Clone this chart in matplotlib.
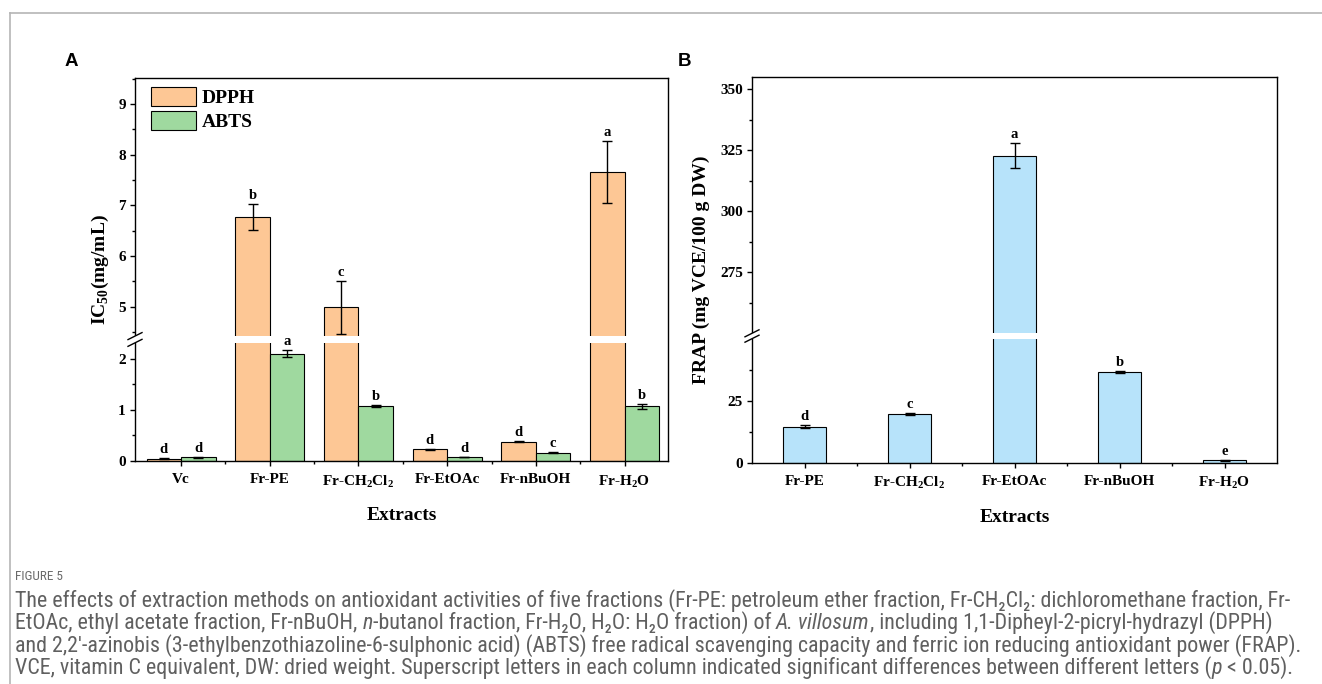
import matplotlib
matplotlib.use('Agg')
import matplotlib.pyplot as plt
import numpy as np
from matplotlib import font_manager
from matplotlib.patches import Rectangle
from matplotlib.lines import Line2D

names = {f.name for f in font_manager.fontManager.ttflist}
cap_font = next(n for n in ['Liberation Sans Narrow', 'Roboto Condensed', 'Roboto', 'Open Sans', 'DejaVu Sans']
                if n in names)

plt.rcParams['font.family'] = ['Liberation Serif', 'DejaVu Serif']
plt.rcParams['font.weight'] = 'bold'
plt.rcParams['mathtext.fontset'] = 'custom'
plt.rcParams['mathtext.rm'] = 'Liberation Serif:weight=normal'
plt.rcParams['mathtext.bf'] = 'Liberation Serif:weight=bold'

# ---- data ----
extracts_a = ['Vc', 'Fr-PE', r'Fr-CH$_\mathbf{2}$Cl$_\mathbf{2}$', 'Fr-EtOAc', 'Fr-nBuOH', r'Fr-H$_\mathbf{2}$O']
dpph = [0.04, 6.77, 4.99, 0.23, 0.38, 7.66]
dpph_err = [0.01, 0.25, 0.52, 0.01, 0.01, 0.61]
dpph_sig = ['d', 'b', 'c', 'd', 'd', 'a']
abts = [0.07, 2.10, 1.08, 0.08, 0.16, 1.07]
abts_err = [0.005, 0.07, 0.02, 0.005, 0.01, 0.05]
abts_sig = ['d', 'a', 'b', 'd', 'c', 'b']

extracts_b = extracts_a[1:]
frap = [14.4, 19.6, 322.8, 36.6, 0.9]
frap_err = [0.6, 0.4, 5.0, 0.3, 0.1]
frap_sig = ['d', 'c', 'a', 'b', 'e']

c_dpph = '#FDC795'
c_abts = '#9FD99F'
c_frap = '#B7E3FA'

W, H = 1322, 684
fig = plt.figure(figsize=(W / 100, H / 100), dpi=100)


def px_axes(l, r, t, b):
    return fig.add_axes([l / W, 1 - b / H, (r - l) / W, (b - t) / H])


def broken(s1, b1, b2, ref, ref_px, s2):
    # data value -> pixel height above the x axis, with a squeezed gap
    xp = [-1e5, 0, b1, b2, 1e5]
    fp = [-1e5 * s1, 0, b1 * s1, ref_px + (b2 - ref) * s2, ref_px + (1e5 - ref) * s2]
    return (lambda y: np.interp(y, xp, fp)), (lambda p: np.interp(p, fp, xp))


def style(ax, b1, b2, fwd, spine_x, bottom_px):
    for s in ax.spines.values():
        s.set_linewidth(1.0)
    ax.tick_params(which='major', direction='out', length=3.5, width=1, labelsize=11, pad=3)
    ax.tick_params(axis='x', which='major', pad=5)
    ax.tick_params(which='minor', direction='out', length=2, width=1)
    # white band through the bars
    ax.add_patch(Rectangle((0, b1), 1, b2 - b1, transform=ax.get_yaxis_transform(),
                           facecolor='white', edgecolor='none', zorder=2.2))
    ax.add_patch(Rectangle((-0.02, b1), 0.04, b2 - b1, transform=ax.get_yaxis_transform(),
                           facecolor='white', edgecolor='none', zorder=2.6, clip_on=False))
    for b in (b1, b2):
        y = bottom_px - fwd(b)
        fig.add_artist(Line2D([(spine_x - 7) / W, (spine_x + 7) / W],
                              [1 - (y + 3.5) / H, 1 - (y - 3.5) / H],
                              color='black', lw=1.0, zorder=5))


def letters(ax, xs, tops, sig):
    for xi, t, s in zip(xs, tops, sig):
        ax.annotate(s, (xi, t), xytext=(0, 1.5), textcoords='offset points',
                    ha='center', va='bottom', fontsize=10.5, fontweight='bold', zorder=6)


# ---- panel A ----
axA = px_axes(135, 668, 78, 461)
fA, iA = broken(51.15, 2.31, 4.42, 5, 154.3, 50.675)
axA.set_yscale('function', functions=(fA, iA))
axA.set_xlim(-0.52, 5.49)
axA.set_ylim(0, 9.51)
xa = np.arange(len(extracts_a))
w = 0.39
axA.bar(xa - w / 2, dpph, w, color=c_dpph, edgecolor='black', linewidth=0.8, label='DPPH', zorder=1)
axA.bar(xa + w / 2, abts, w, color=c_abts, edgecolor='black', linewidth=0.8, label='ABTS', zorder=1)
axA.errorbar(xa - w / 2, dpph, yerr=dpph_err, fmt='none', ecolor='black', elinewidth=1,
             capsize=3.5, capthick=1, zorder=3)
axA.errorbar(xa + w / 2, abts, yerr=abts_err, fmt='none', ecolor='black', elinewidth=1,
             capsize=3.5, capthick=1, zorder=3)
letters(axA, xa - w / 2, np.add(dpph, dpph_err), dpph_sig)
letters(axA, xa + w / 2, np.add(abts, abts_err), abts_sig)
axA.set_yticks([0, 1, 2, 5, 6, 7, 8, 9])
axA.set_yticklabels(['0', '1', '2', '5', '6', '7', '8', '9'])
axA.set_yticks([0.5, 1.5, 4.5, 5.5, 6.5, 7.5, 8.5, 9.5], minor=True)
axA.set_xticks(xa)
axA.set_xticklabels(extracts_a)
axA.set_xticks(xa[:-1] + 0.5, minor=True)
style(axA, 2.31, 4.42, fA, 135, 461)
axA.set_ylabel(r'IC$_\mathbf{50}$(mg/mL)', fontsize=14, fontweight='bold', va='center')
axA.yaxis.set_label_coords((100 - 135) / 533, 0.5)
axA.set_xlabel('Extracts', fontsize=14, fontweight='bold', va='center')
axA.xaxis.set_label_coords(0.5, -0.141)
axA.legend(loc='upper left', bbox_to_anchor=(16 / 533, 1 - 9 / 383), frameon=False,
           fontsize=14, handlelength=2.3, handleheight=1.15, handletextpad=0.3,
           labelspacing=0.18, borderpad=0, borderaxespad=0)

# ---- panel B ----
axB = px_axes(752, 1277, 77.3, 462.7)
fB, iB = broken(2.48, 50, 250, 350, 373.4, 2.44)
axB.set_yscale('function', functions=(fB, iB))
axB.set_xlim(-0.5, 4.5)
axB.set_ylim(0, 354.9)
xb = np.arange(len(extracts_b))
wb = 0.41
axB.bar(xb, frap, wb, color=c_frap, edgecolor='black', linewidth=0.8, zorder=1)
axB.errorbar(xb, frap, yerr=frap_err, fmt='none', ecolor='black', elinewidth=1,
             capsize=3.5, capthick=1, zorder=3)
letters(axB, xb, np.add(frap, frap_err), frap_sig)
axB.set_yticks([0, 25, 275, 300, 325, 350])
axB.set_yticklabels(['0', '25', '275', '300', '325', '350'])
axB.set_yticks([12.5, 37.5, 262.5, 287.5, 312.5, 337.5], minor=True)
axB.set_xticks(xb)
axB.set_xticklabels(extracts_b)
axB.set_xticks(xb[:-1] + 0.5, minor=True)
style(axB, 50, 250, fB, 752, 462.7)
axB.set_ylabel('FRAP (mg VCE/100 g DW)', fontsize=14, fontweight='bold', va='center')
axB.yaxis.set_label_coords((701 - 752) / 525, 0.5)
axB.set_xlabel('Extracts', fontsize=14, fontweight='bold', va='center')
axB.xaxis.set_label_coords(0.5, -0.141)

# panel letters
fig.text(65 / W, 1 - 61 / H, 'A', family=['Liberation Sans', 'DejaVu Sans'], fontweight='bold',
         fontsize=13.5, va='center', ha='left')
fig.text(678 / W, 1 - 61 / H, 'B', family=['Liberation Sans', 'DejaVu Sans'], fontweight='bold',
         fontsize=13.5, va='center', ha='left')

# outer frame
fig.add_artist(Line2D([10 / W, 1], [1 - 13 / H, 1 - 13 / H], color='#b5b5b5', lw=1.2))
fig.add_artist(Line2D([10 / W, 10 / W], [0, 1 - 13 / H], color='#b5b5b5', lw=1.2))

# caption, as runs of plain / italic text
cap_lines = [
    [('The effects of extraction methods on antioxidant activities of five fractions (Fr-PE: petroleum ether '
      'fraction, Fr-CH\u2082Cl\u2082: dichloromethane fraction, Fr-', 'normal')],
    [('EtOAc, ethyl acetate fraction, Fr-nBuOH, ', 'normal'), ('n', 'italic'),
     ('-butanol fraction, Fr-H\u2082O, H\u2082O: H\u2082O fraction) of ', 'normal'), ('A. villosum', 'italic'),
     (', including 1,1-Dipheyl-2-picryl-hydrazyl (DPPH)', 'normal')],
    [('and 2,2\u2032-azinobis (3-ethylbenzothiazoline-6-sulphonic acid) (ABTS) free radical scavenging '
      'capacity and ferric ion reducing antioxidant power (FRAP).', 'normal')],
    [('VCE, vitamin C equivalent, DW: dried weight. Superscript letters in each column indicated significant '
      'differences between different letters (', 'normal'), ('p', 'italic'), (' < 0.05).', 'normal')],
]
cap_base = [606.5, 629, 651.5, 674]
cap_fam = [cap_font, 'DejaVu Sans']
cap_color = '#606060'
renderer = fig.canvas.get_renderer()


def text_w(s, fs, st):
    t = fig.text(0, 0, s + '|', fontsize=fs, family=cap_fam, fontweight='normal', fontstyle=st)
    w1 = t.get_window_extent(renderer).width
    t.set_text('|')
    w2 = t.get_window_extent(renderer).width
    t.remove()
    return w1 - w2


fs = 10 * 1285 / text_w(cap_lines[2][0][0], 10, 'normal')
fig.text(15 / W, 1 - 580 / H, 'FIGURE 5', family=cap_fam, fontweight='normal', fontsize=9.5,
         color='#6a6a6a', va='baseline', ha='left')
for runs, yb in zip(cap_lines, cap_base):
    x = 15.0
    for s, st in runs:
        fig.text(x / W, 1 - yb / H, s, family=cap_fam, fontweight='normal', fontstyle=st,
                 fontsize=fs, color=cap_color, va='baseline', ha='left')
        x += text_w(s, fs, st)

fig.savefig('out.png', dpi=100)
